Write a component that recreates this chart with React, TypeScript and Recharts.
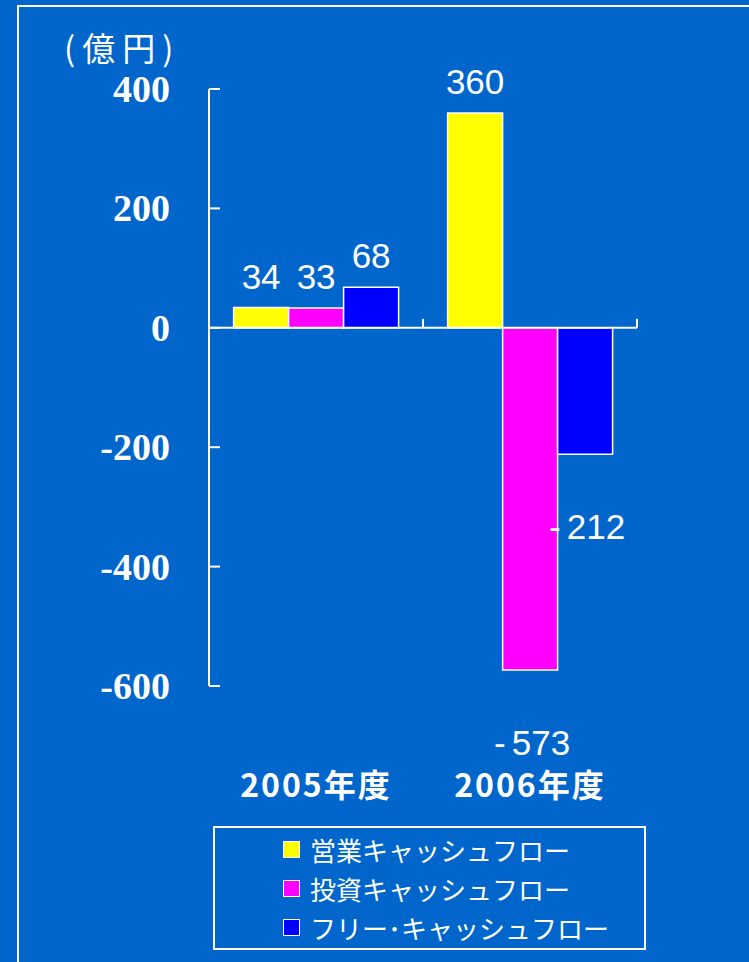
import { BarChart, Bar, XAxis, YAxis, ReferenceLine, Legend, LabelList } from 'recharts'

const years = ['2005年度', '2006年度']
const operatingCF = [34, 360]
const investingCF = [33, -573]
const freeCF = [68, -212]
const yTicks = [-600, -400, -200, 0, 200, 400]
const seriesNames = ['営業キャッシュフロー', '投資キャッシュフロー', 'フリー･キャッシュフロー']

const data = years.map((year, i) => ({
  year,
  operating: operatingCF[i],
  investing: investingCF[i],
  free: freeCF[i],
}))

const BG = '#0066CC'
const WHITE = '#FFFFFF'
const SANS = 'Liberation Sans, Arial, sans-serif'
const JP = '"Noto Sans CJK JP", sans-serif'

function YTick(props: any) {
  const { x, y, payload } = props
  return (
    <g>
      <line x1={x} x2={x + 11} y1={y} y2={y} stroke={WHITE} strokeWidth={2} />
      <text
        x={x - 39}
        y={y}
        textAnchor="end"
        dominantBaseline="central"
        fill={WHITE}
        fontFamily="Liberation Serif, Times New Roman, serif"
        fontWeight="bold"
        fontSize={38}
      >
        {payload.value}
      </text>
    </g>
  )
}

function XTick(props: any) {
  const { x, y, payload } = props
  return (
    <text
      x={x}
      y={y + 97}
      textAnchor="middle"
      dominantBaseline="central"
      fill={WHITE}
      fontFamily={JP}
      fontWeight="bold"
      fontSize={32}
      letterSpacing={2}
    >
      {payload.value}
    </text>
  )
}

function ZeroAxis(props: any) {
  const { x1, x2, y1 } = props
  const mid = (x1 + x2) / 2
  return (
    <g>
      <line x1={x1} x2={x2} y1={y1} y2={y1} stroke={WHITE} strokeWidth={2} />
      {[x1, mid, x2].map((tx, i) => (
        <line key={i} x1={tx} x2={tx} y1={y1} y2={y1 - 9} stroke={WHITE} strokeWidth={2} />
      ))}
    </g>
  )
}

function ValueLabel(props: any) {
  const { x, y, width, height, value } = props
  const top = Math.min(y, y + height)
  const bottom = Math.max(y, y + height)
  const cx = x + width / 2
  if (value >= 0) {
    return (
      <text x={cx} y={top - 19} textAnchor="middle" fill={WHITE} fontFamily={SANS} fontSize={35}>
        {value}
      </text>
    )
  }
  return (
    <text
      x={cx + 2}
      y={bottom + 72}
      textAnchor="middle"
      dominantBaseline="central"
      fill={WHITE}
      fontFamily={SANS}
      fontSize={35}
    >
      <tspan>-</tspan>
      <tspan dx={6}>{Math.abs(value)}</tspan>
    </text>
  )
}

function LegendBox(props: any) {
  const items = [...(props.payload || [])].sort(
    (a: any, b: any) => seriesNames.indexOf(a.value) - seriesNames.indexOf(b.value)
  )
  return (
    <div
      style={{
        width: 433,
        height: 124,
        boxSizing: 'border-box',
        border: '2px solid ' + WHITE,
        padding: '2px 0 0 68px',
      }}
    >
      {items.map((p: any, i: number) => (
        <div key={i} style={{ display: 'flex', alignItems: 'center', height: 39 }}>
          <span
            style={{
              width: 15,
              height: 15,
              background: p.color,
              border: '1.5px solid ' + WHITE,
              marginRight: 10,
            }}
          />
          <span style={{ color: WHITE, fontFamily: JP, fontSize: 26, lineHeight: '39px' }}>
            {p.value}
          </span>
        </div>
      ))}
    </div>
  )
}

export default function App() {
  return (
    <div
      style={{
        position: 'absolute',
        left: 0,
        top: 0,
        width: 749,
        height: 962,
        background: BG,
        overflow: 'hidden',
      }}
    >
      <div
        style={{
          position: 'absolute',
          left: 17,
          top: 5,
          width: 800,
          height: 1000,
          borderTop: '2px solid ' + WHITE,
          borderLeft: '2px solid ' + WHITE,
        }}
      />
      <div
        style={{
          position: 'absolute',
          left: 64,
          top: 27,
          color: WHITE,
          fontFamily: JP,
          fontSize: 33,
          lineHeight: '40px',
          letterSpacing: 7,
        }}
      >
        (億円)
      </div>
      <div style={{ position: 'absolute', left: 0, top: 0 }}>
        <BarChart
          width={749}
          height={962}
          data={data}
          margin={{ top: 89, right: 112, bottom: 176, left: 0 }}
          barCategoryGap="11.5%"
          barGap={0}
        >
          <XAxis
            dataKey="year"
            axisLine={false}
            tickLine={false}
            tickSize={0}
            tickMargin={0}
            tick={<XTick />}
            height={100}
          />
          <YAxis
            width={209}
            domain={[-600, 400]}
            ticks={yTicks}
            interval={0}
            axisLine={{ stroke: WHITE, strokeWidth: 2 }}
            tickLine={false}
            tickSize={0}
            tickMargin={0}
            tick={<YTick />}
          />
          <Bar dataKey="operating" name={seriesNames[0]} fill="#FFFF00" stroke={WHITE} strokeWidth={1.5} isAnimationActive={false}>
            <LabelList dataKey="operating" content={<ValueLabel />} />
          </Bar>
          <Bar dataKey="investing" name={seriesNames[1]} fill="#FF00FF" stroke={WHITE} strokeWidth={1.5} isAnimationActive={false}>
            <LabelList dataKey="investing" content={<ValueLabel />} />
          </Bar>
          <Bar dataKey="free" name={seriesNames[2]} fill="#0000FF" stroke={WHITE} strokeWidth={1.5} isAnimationActive={false}>
            <LabelList dataKey="free" content={<ValueLabel />} />
          </Bar>
          <ReferenceLine y={0} shape={<ZeroAxis />} />
          <Legend
            layout="horizontal"
            verticalAlign="middle"
            align="center"
            content={<LegendBox />}
            wrapperStyle={{ left: 213, top: 826, width: 433, height: 124 }}
          />
        </BarChart>
      </div>
    </div>
  )
}
